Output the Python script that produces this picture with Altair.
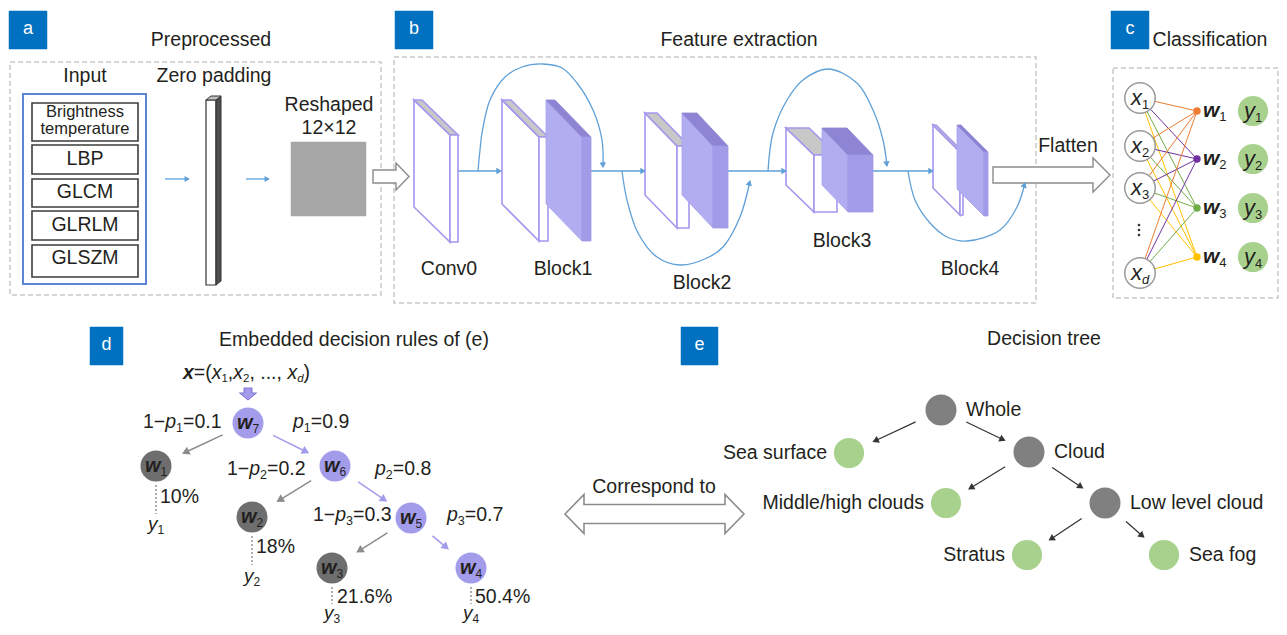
import math
import altair as alt
import pandas as pd

FONT = "Liberation Sans"
INK = "#231F20"
TAG_BLUE = "#0070C0"
LINE_BLUE = "#5FA0D8"
LAV = "#A597EE"
PURPLE_NODE = "#A39CEB"
GRAY_D = "#6E6E6E"
GRAY_E = "#808080"
GREEN = "#A9D18E"
ARROW_GRAY = "#8C8C8C"

# ---------------- panel tags / titles / frames ----------------
panel_letters = ["a", "b", "c", "d", "e"]
panel_tag_boxes = [(9, 11, 47, 49), (395, 11, 433, 49), (1111, 11, 1149, 49), (90, 327, 123, 365), (681, 327, 718, 365)]
panel_titles = ["Preprocessed", "Feature extraction", "Classification", "Embedded decision rules of (e)", "Decision tree"]
panel_title_xy = [(211, 40), (739, 40), (1210, 40), (354, 340), (1044, 339)]
dashed_frames = [(10, 62, 381, 295), (394, 57, 1036, 303), (1113, 68, 1278, 298)]

# ---------------- panel a ----------------
input_features = ["Brightness", "temperature", "LBP", "GLCM", "GLRLM", "GLSZM"]
input_feature_xy = [(85, 112), (85, 129), (85, 159), (85, 192), (85, 225), (85, 258)]
input_feature_size = [16.5, 16.5, 19.5, 19.5, 19.5, 19.5]
feature_boxes = [(32, 103, 138, 141), (32, 145, 138, 174), (32, 179, 138, 207), (32, 211, 138, 240), (32, 245, 138, 277)]
input_frame = (23, 94, 146, 284)
a_heads = ["Input", "Zero padding", "Reshaped", "12×12"]
a_head_xy = [(85, 76), (214, 76), (329, 105), (329, 128)]
reshaped_square = (291, 142, 366, 216)
flow_arrows_a = [((165, 179), (189, 179)), ((246, 179), (269, 179))]

# ---------------- panel b ----------------
layer_names = ["Conv0", "Block1", "Block2", "Block3", "Block4", "Flatten"]
layer_label_xy = [(449, 269), (563, 269), (702, 283), (842, 241), (970, 269), (1068, 146)]
slabs = [  # kind, front x0, x1, y0, y1, depth dx, dy
    ("white", 450, 458, 135, 242, 36, 35),
    ("white", 539, 548, 137, 241, 37, 37),
    ("purple", 582, 591, 137, 241, 36, 37),
    ("white", 677, 689, 146, 228, 32, 33),
    ("purple", 713, 728, 146, 228, 31, 33),
    ("white", 814, 837, 155, 212, 28, 27),
    ("purple", 848, 873, 155, 212, 26, 27),
    ("white", 960, 963, 152, 215, 27, 27),
    ("purple", 984, 988, 152, 216, 27, 27),
]
flow_arrows_b = [((458, 171), (501, 171)), ((591, 171), (645, 171)), ((728, 171), (786, 171)), ((873, 171), (933, 171))]
skip_arcs = [
    [(478, 171), (480, 150), (482, 133), (490, 100), (505, 77), (522, 67), (543, 64), (562, 68), (577, 83), (593, 110), (602, 140), (603, 167)],
    [(622, 171), (627, 200), (638, 233), (657, 257), (680, 265), (707, 258), (723, 247), (740, 217), (750, 181)],
    [(768, 171), (773, 133), (787, 100), (803, 80), (828, 69), (857, 83), (873, 110), (883, 140), (887, 166)],
    [(908, 171), (915, 200), (930, 223), (947, 237), (967, 241), (1000, 230), (1017, 207), (1025, 183)],
]

# ---------------- panel c ----------------
c_inputs = ["1", "2", "3", "d"]
c_input_y = [98, 146, 188, 273]
c_input_x = 1140
c_weights = ["1", "2", "3", "4"]
c_weight_y = [111, 159, 208, 257]
c_weight_x = 1197
c_weight_colors = ["#ED7D31", "#7030A0", "#70AD47", "#FFC000"]
c_out_x = 1253
c_dots_y = [225, 230, 235]

# ---------------- panel d ----------------
d_nodes = ["7", "1", "6", "2", "5", "3", "4"]
d_node_xy = [(248, 423), (156, 466), (335, 466), (252, 517), (411, 518), (332, 568), (471, 568)]
d_node_kind = ["p", "g", "p", "g", "p", "g", "p"]
d_edges = [(0, 1), (0, 2), (2, 3), (2, 4), (4, 5), (4, 6)]
p_right = [0.9, 0.8, 0.7]
p_left = [0.1, 0.2, 0.3]
p_left_xy = [(143, 422), (227, 469), (313, 515)]
p_right_xy = [(293, 422), (375, 469), (447, 515)]
leaf_pct = [10, 18, 21.6, 50.4]
leaf_pct_xy = [(160, 497), (256, 547), (337, 597), (475, 597)]
leaf_y_xy = [(156, 524), (252, 576), (332, 613), (471, 613)]
leaf_stems = [(156, 485, 514), (252, 536, 565), (332, 587, 604), (471, 587, 604)]

# ---------------- panel e ----------------
e_nodes = ["Whole", "Sea surface", "Cloud", "Middle/high clouds", "Low level cloud", "Stratus", "Sea fog"]
e_node_xy = [(941, 410), (849, 453), (1029, 452), (946, 503), (1105, 503), (1027, 555), (1164, 555)]
e_node_kind = ["g", "l", "g", "l", "g", "l", "l"]
e_label_side = ["r", "l", "r", "l", "r", "l", "r"]
e_edges = [(0, 1), (0, 2), (2, 3), (2, 4), (4, 5), (4, 6)]
correspond_label = "Correspond to"
correspond_xy = (654, 487)

# ---------------- geometry helpers ----------------
def feat(pts, fill, stroke, sw):
    ring = [[float(x), float(y)] for x, y in pts] + [[float(pts[0][0]), float(pts[0][1])]]
    return {"type": "Feature", "geometry": {"type": "Polygon", "coordinates": [ring]},
            "properties": {"fill": fill, "stroke": stroke, "sw": sw}}

def rect(x0, y0, x1, y1):
    return [(x0, y0), (x1, y0), (x1, y1), (x0, y1)]

def right_arrow(x0, xb, xt, c, hb, hh):
    return [(x0, c - hb), (xb, c - hb), (xb, c - hh), (xt, c), (xb, c + hh), (xb, c + hb), (x0, c + hb)]

def double_arrow(xl, xb1, xb2, xr, c, hb, hh):
    return [(xl, c), (xb1, c - hh), (xb1, c - hb), (xb2, c - hb), (xb2, c - hh), (xr, c),
            (xb2, c + hh), (xb2, c + hb), (xb1, c + hb), (xb1, c + hh)]

def down_arrow(cx, y0, yb, yt, hb, hh):
    return [(cx - hb, y0), (cx + hb, y0), (cx + hb, yb), (cx + hh, yb), (cx, yt), (cx - hh, yb), (cx - hb, yb)]

polys = []
for (x0, y0, x1, y1) in panel_tag_boxes:
    polys.append(feat(rect(x0, y0, x1, y1), TAG_BLUE, TAG_BLUE, 0.5))
polys.append(feat(rect(*input_frame), "white", "#5B84D6", 2))
for b in feature_boxes:
    polys.append(feat(rect(*b), "white", "#3C3C3C", 1.6))
# zero padding bar
polys.append(feat(rect(206, 100, 216, 285), "white", "#333333", 1.2))
polys.append(feat([(216, 100), (221, 96), (221, 281), (216, 285)], "#4D4D4D", "#333333", 1.0))
polys.append(feat([(206, 100), (211, 96), (221, 96), (216, 100)], "#BFBFBF", "#333333", 1.0))
polys.append(feat(rect(*reshaped_square), "#A6A6A6", "#A6A6A6", 0.5))
# hollow arrows
polys.append(feat(right_arrow(373, 396, 409, 176.5, 6.5, 13.5), "white", ARROW_GRAY, 1.4))
polys.append(feat(right_arrow(993, 1093, 1110, 175, 8, 17), "white", ARROW_GRAY, 1.4))
polys.append(feat(double_arrow(565, 584, 725, 744, 514, 9.5, 19.5), "white", ARROW_GRAY, 1.6))
polys.append(feat(down_arrow(248, 388, 393, 400, 4, 8.5), PURPLE_NODE, "#7B72D0", 1.0))
# slabs
for kind, fx0, fx1, fy0, fy1, dx, dy in slabs:
    side = [(fx0, fy0), (fx0 - dx, fy0 - dy), (fx0 - dx, fy1 - dy), (fx0, fy1)]
    top = [(fx0, fy0), (fx0 - dx, fy0 - dy), (fx1 - dx, fy0 - dy), (fx1, fy0)]
    front = rect(fx0, fy0, fx1, fy1)
    if kind == "white":
        polys += [feat(side, "white", LAV, 1.6), feat(top, "#C8C8C8", LAV, 1.6), feat(front, "white", LAV, 1.6)]
    else:
        polys += [feat(side, "#B2ADF0", "#A7A1EC", 0.8), feat(top, "#8D85D3", "#8D85D3", 0.8),
                  feat(front, "#A29BE7", "#A29BE7", 0.8)]

frame_feats = [feat(rect(*f), "white", "#C8C8C8", 1.5) for f in dashed_frames]

# ---------------- lines & heads ----------------
rules, dashed_rules, heads = [], [], []

def head_row(x0, y0, x1, y1, color, size):
    L = math.hypot(x1 - x0, y1 - y0)
    ux, uy = (x1 - x0) / L, (y1 - y0) / L
    h = 0.866 * math.sqrt(size) / 2
    heads.append(dict(lon=x1 - ux * h, lat=y1 - uy * h, angle=math.degrees(math.atan2(ux, -uy)) % 360,
                      color=color, size=size))
    return x1 - ux * h, y1 - uy * h

def arrow(p0, p1, color, width, size):
    ex, ey = head_row(p0[0], p0[1], p1[0], p1[1], color, size)
    rules.append(dict(lon=p0[0], lat=p0[1], lon2=ex, lat2=ey, color=color, w=width))

for p0, p1 in flow_arrows_a:
    arrow(p0, p1, LINE_BLUE, 1.3, 38)
for p0, p1 in flow_arrows_b:
    arrow(p0, p1, LINE_BLUE, 1.3, 42)

arc_rows = []
for k, pts in enumerate(skip_arcs):
    for i, (x, y) in enumerate(pts):
        arc_rows.append(dict(arc=k, idx=i, lon=x, lat=y))
    head_row(pts[-2][0], pts[-2][1], pts[-1][0], pts[-1][1], LINE_BLUE, 42)

def node_arrow(a, b, s_off, e_off, color, width, size):
    dx, dy = b[0] - a[0], b[1] - a[1]
    L = math.hypot(dx, dy)
    ux, uy = dx / L, dy / L
    arrow((a[0] + ux * s_off, a[1] + uy * s_off), (b[0] - ux * e_off, b[1] - uy * e_off), color, width, size)

for i, j in d_edges:
    col = PURPLE_NODE if d_node_kind[j] == "p" else ARROW_GRAY
    node_arrow(d_node_xy[i], d_node_xy[j], 28, 30, col, 1.5, 75)
for i, j in e_edges:
    node_arrow(e_node_xy[i], e_node_xy[j], 28, 27, "#333333", 1.2, 55)

# panel c connections
for yi in c_input_y:
    for yw, col in zip(c_weight_y, c_weight_colors):
        rules.append(dict(lon=c_input_x, lat=yi, lon2=c_weight_x, lat2=yw, color=col, w=1.0))

for x, y0, y1 in leaf_stems:
    dashed_rules.append(dict(lon=x, lat=y0, lon2=x, lat2=y1))

# ---------------- circles ----------------
circles = []
for (x, y), kd in zip(d_node_xy, d_node_kind):
    circles.append(dict(lon=x, lat=y, fill=PURPLE_NODE if kd == "p" else GRAY_D, size=962))
for (x, y), kd in zip(e_node_xy, e_node_kind):
    circles.append(dict(lon=x, lat=y, fill=GRAY_E if kd == "g" else GREEN, size=962 if kd == "g" else 908))
for y, col in zip(c_weight_y, c_weight_colors):
    circles.append(dict(lon=c_weight_x, lat=y, fill=col, size=55))
    circles.append(dict(lon=c_out_x, lat=y, fill=GREEN, size=908))
for y in c_dots_y:
    circles.append(dict(lon=c_input_x - 1, lat=y, fill="#333333", size=7))
open_circles = [dict(lon=c_input_x, lat=y) for y in c_input_y]

# ---------------- text ----------------
WID = {c: .556 for c in "0123456789"}
WID.update({".": .278, ",": .278, " ": .278, "=": .584, "(": .333, ")": .333, "−": .584, "%": .889,
            "x": .5, "p": .556, "y": .5, "d": .556, "w": .722})
BOLD = {"w": .778, "x": .556}

def seg_w(t, size, kind):
    return sum((BOLD[c] if kind == "bi" and c in BOLD else WID.get(c, .556)) for c in t) * size

rich_rows = []

def rich(x, y, parts, size=19.5, sub=12.5, anchor="left"):
    ws = []
    for t, k in parts:
        ws.append(seg_w(t, sub if k in ("s", "si") else size, k))
    cx = x - sum(ws) / 2 if anchor == "center" else x
    for (t, k), w in zip(parts, ws):
        is_sub = k in ("s", "si")
        rich_rows.append(dict(lon=cx, lat=y + (size * 0.3 if is_sub else 0), text=t, kind=k,
                              size=sub if is_sub else size))
        cx += w

for (x, y), v, n in zip(p_left_xy, p_left, ["1", "2", "3"]):
    rich(x, y, [("1−", "n"), ("p", "i"), (n, "s"), (f"={v}", "n")])
for (x, y), v, n in zip(p_right_xy, p_right, ["1", "2", "3"]):
    rich(x, y, [("p", "i"), (n, "s"), (f"={v}", "n")])
for (x, y), n in zip(d_node_xy, d_nodes):
    rich(x, y, [("w", "bi"), (n, "s")], size=20, sub=12, anchor="center")
for (x, y), n in zip(leaf_y_xy, ["1", "2", "3", "4"]):
    rich(x, y, [("y", "i"), (n, "s")], size=19, sub=12, anchor="center")
rich(183, 373, [("x", "bi"), ("=(", "n"), ("x", "i"), ("1", "s"), (",", "n"), ("x", "i"), ("2", "s"),
                (", ..., ", "n"), ("x", "i"), ("d", "si"), (")", "n")], size=19.5, sub=11.5)
for y, n in zip(c_input_y, c_inputs):
    rich(c_input_x, y, [("x", "i"), (n, "si" if n == "d" else "s")], size=22, sub=13, anchor="center")
for y, n in zip(c_weight_y, c_weights):
    rich(c_weight_x + 6, y, [("w", "bi"), (n, "s")], size=21, sub=13)
for y, n in zip(c_weight_y, c_weights):
    rich(c_out_x, y, [("y", "i"), (n, "s")], size=22, sub=13, anchor="center")

center_txt = []
for t, (x, y) in zip(panel_titles, panel_title_xy):
    center_txt.append(dict(lon=x, lat=y, text=t, size=19.5, color=INK))
for t, (x0, y0, x1, y1) in zip(panel_letters, panel_tag_boxes):
    center_txt.append(dict(lon=(x0 + x1) / 2, lat=(y0 + y1) / 2 - 1, text=t, size=18, color="white"))
for t, (x, y), s in zip(input_features, input_feature_xy, input_feature_size):
    center_txt.append(dict(lon=x, lat=y, text=t, size=s, color=INK))
for t, (x, y) in zip(a_heads, a_head_xy):
    center_txt.append(dict(lon=x, lat=y, text=t, size=19.5, color=INK))
for t, (x, y) in zip(layer_names, layer_label_xy):
    center_txt.append(dict(lon=x, lat=y, text=t, size=19.5, color=INK))
center_txt.append(dict(lon=correspond_xy[0], lat=correspond_xy[1], text=correspond_label, size=19.5, color=INK))

left_txt, right_txt = [], []
for v, (x, y) in zip(leaf_pct, leaf_pct_xy):
    left_txt.append(dict(lon=x, lat=y, text=f"{v}%"))
for t, (x, y), side in zip(e_nodes, e_node_xy, e_label_side):
    if side == "r":
        left_txt.append(dict(lon=x + 25, lat=y, text=t))
    else:
        right_txt.append(dict(lon=x - 22, lat=y, text=t))

# ---------------- chart ----------------
LL = dict(longitude="lon:Q", latitude="lat:Q")

frames = alt.Chart(alt.Data(values=frame_feats)).mark_geoshape(
    filled=False, stroke="#C8C8C8", strokeWidth=1.5, strokeDash=[5, 3])
shapes = alt.Chart(alt.Data(values=polys)).mark_geoshape().encode(
    fill=alt.Fill("properties.fill:N", scale=None),
    stroke=alt.Stroke("properties.stroke:N", scale=None),
    strokeWidth=alt.StrokeWidth("properties.sw:Q", scale=None))
rule_layer = alt.Chart(pd.DataFrame(rules)).mark_rule().encode(
    longitude="lon:Q", latitude="lat:Q", longitude2="lon2:Q", latitude2="lat2:Q",
    color=alt.Color("color:N", scale=None), strokeWidth=alt.StrokeWidth("w:Q", scale=None))
dash_layer = alt.Chart(pd.DataFrame(dashed_rules)).mark_rule(
    color="#777777", strokeWidth=1.2, strokeDash=[2, 2]).encode(
    longitude="lon:Q", latitude="lat:Q", longitude2="lon2:Q", latitude2="lat2:Q")
arc_layer = alt.Chart(pd.DataFrame(arc_rows)).mark_line(
    color=LINE_BLUE, strokeWidth=1.3, interpolate="catmull-rom").encode(
    detail="arc:N", order="idx:Q", **LL)
head_layer = alt.Chart(pd.DataFrame(heads)).mark_point(
    shape="triangle", filled=True, opacity=1, strokeWidth=0).encode(
    angle=alt.Angle("angle:Q", scale=None), fill=alt.Fill("color:N", scale=None),
    size=alt.Size("size:Q", scale=None), **LL)
open_layer = alt.Chart(pd.DataFrame(open_circles)).mark_circle(
    size=930, fill="white", stroke="#9A9A9A", strokeWidth=1.5, opacity=1).encode(**LL)
circle_layer = alt.Chart(pd.DataFrame(circles)).mark_circle(opacity=1).encode(
    fill=alt.Fill("fill:N", scale=None), size=alt.Size("size:Q", scale=None), **LL)

def txt(df, align, **kw):
    return alt.Chart(df).mark_text(align=align, baseline="middle", font=FONT, **kw)

center_layer = txt(pd.DataFrame(center_txt), "center").encode(
    text="text:N", size=alt.Size("size:Q", scale=None), color=alt.Color("color:N", scale=None), **LL)
left_layer = txt(pd.DataFrame(left_txt), "left", fontSize=19.5, color=INK).encode(text="text:N", **LL)
right_layer = txt(pd.DataFrame(right_txt), "right", fontSize=19.5, color=INK).encode(text="text:N", **LL)
rich_df = pd.DataFrame(rich_rows)
rich_normal = txt(rich_df[rich_df.kind.isin(["n", "s"])], "left", color=INK).encode(
    text="text:N", size=alt.Size("size:Q", scale=None), **LL)
rich_italic = txt(rich_df[rich_df.kind.isin(["i", "si"])], "left", color=INK, fontStyle="italic").encode(
    text="text:N", size=alt.Size("size:Q", scale=None), **LL)
rich_bi = txt(rich_df[rich_df.kind == "bi"], "left", color=INK, fontStyle="italic", fontWeight="bold").encode(
    text="text:N", size=alt.Size("size:Q", scale=None), **LL)

chart = alt.layer(
    frames, rule_layer, arc_layer, shapes, dash_layer, head_layer, open_layer, circle_layer,
    center_layer, left_layer, right_layer, rich_normal, rich_italic, rich_bi
).project(
    type="identity", scale=1, translate=[-8, -8]
).properties(
    width=1271, height=619, padding=0, autosize="none", background="white"
).configure_view(stroke=None)

chart.save("out.html", embed_options={"renderer": "svg", "actions": False})
